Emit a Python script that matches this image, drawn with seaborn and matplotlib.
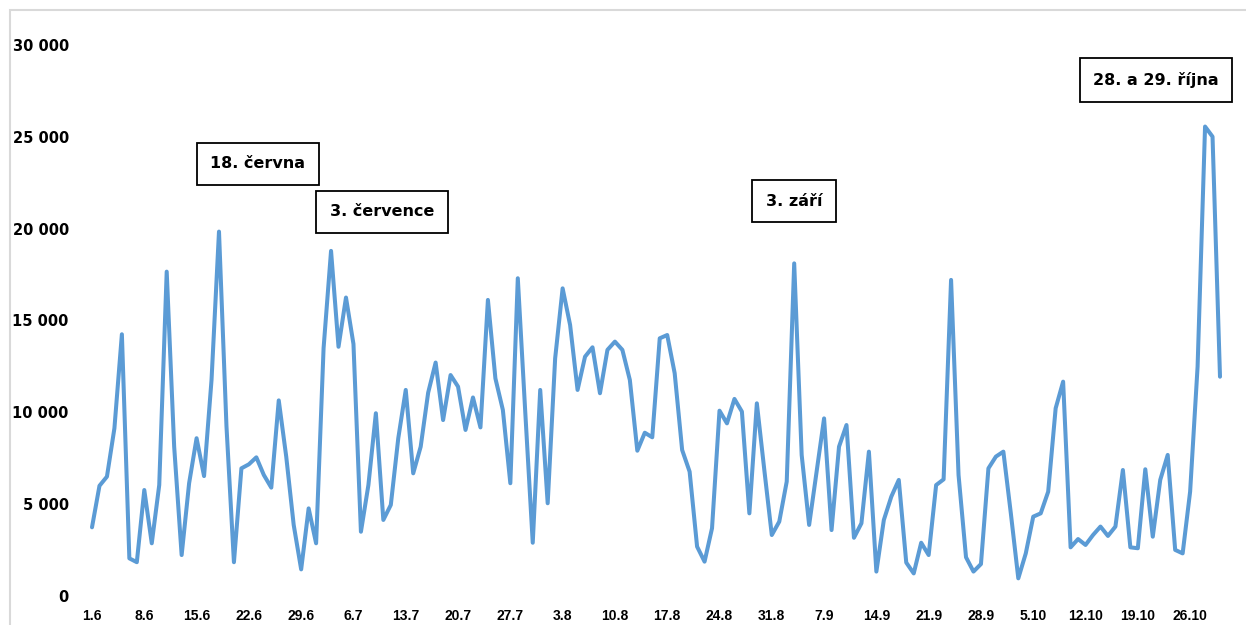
import matplotlib
matplotlib.use("Agg")
import matplotlib.pyplot as plt
import seaborn as sns
import pandas as pd
from matplotlib.patches import Rectangle

# denni hodnoty od 1.6. do 30.10.
values = [
    3740, 6000, 6500, 9130, 14250, 2050, 1840, 5770, 2870, 6040,
    17660, 8130, 2230, 6140, 8590, 6530, 11760, 19840, 9250, 1840,
    6950, 7170, 7550, 6590, 5900, 10650, 7590, 3870, 1450, 4770,
    2870, 13490, 18790, 13570, 16250, 13720, 3500, 6040, 9950, 4140,
    4960, 8590, 11220, 6680, 8130, 11070, 12710, 9580, 12030, 11400,
    9040, 10810, 9180, 16120, 11850, 10130, 6140, 17300, 10000, 2900,
    11220, 5050, 12940, 16750, 14760, 11220, 13030, 13540, 11040, 13400,
    13850, 13400, 11760, 7910, 8890, 8640, 14030, 14210, 12130, 7950,
    6770, 2690, 1870, 3690, 10090, 9400, 10730, 10040, 4500, 10490,
    6860, 3320, 4050, 6230, 18110, 7680, 3870, 6770, 9670, 3590,
    8130, 9310, 3170, 3960, 7860, 1330, 4140, 5410, 6320, 1820,
    1230, 2900, 2230, 6040, 6350, 17210, 6590, 2110, 1330, 1740,
    6950, 7590, 7860, 4500, 960, 2320, 4320, 4500, 5680, 10220,
    11670, 2650, 3100, 2780, 3320, 3780, 3270, 3780, 6860, 2650,
    2600, 6900, 3230, 6320, 7680, 2510, 2320, 5680, 12490, 25560,
    25010, 11940,
]

tick_labels = [
    "1.6", "8.6", "15.6", "22.6", "29.6", "6.7", "13.7", "20.7", "27.7",
    "3.8", "10.8", "17.8", "24.8", "31.8", "7.9", "14.9", "21.9", "28.9",
    "5.10", "12.10", "19.10", "26.10",
]
y_ticks = [0, 5000, 10000, 15000, 20000, 25000, 30000]

notes = ["18. června", "3. července", "3. září", "28. a 29. října"]
note_pos = [(258, 164), (382, 212), (794, 201), (1156, 80)]  # px

W, H = 1246, 625

df = pd.DataFrame({"den": range(len(values)), "pocet": values})

sns.set_style("white")
fig = plt.figure(figsize=(W / 100, H / 100), dpi=100)
ax = fig.add_axes([82 / W, 29 / H, (1230 - 82) / W, (596 - 45) / H])

sns.lineplot(data=df, x="den", y="pocet", ax=ax, color="#5B9BD5",
             linewidth=2.9, solid_joinstyle="round", solid_capstyle="round")

step = 7.47
ax.set_xlim(-10 / step, len(values) - 1 + 10 / step)
ax.set_ylim(0, 30000)
ax.set_xticks(range(0, len(tick_labels) * 7, 7))
ax.set_xticklabels(tick_labels, fontfamily="Liberation Sans",
                   fontweight="bold", fontsize=10, color="black")
ax.set_yticks(y_ticks)
ax.set_yticklabels([f"{v:,}".replace(",", " ") for v in y_ticks],
                   fontfamily="DejaVu Sans", fontweight="bold", fontsize=10.5,
                   color="black")
ax.tick_params(axis="x", length=0, pad=9.5)
ax.tick_params(axis="y", length=0, pad=9.5)
ax.set_xlabel("")
ax.set_ylabel("")
for s in ax.spines.values():
    s.set_visible(False)

for txt, (px, py) in zip(notes, note_pos):
    fig.text(px / W, 1 - py / H, txt, ha="center", va="center",
             fontsize=11.5, fontweight="bold", color="black",
             bbox=dict(boxstyle="square,pad=0.85", fc="white", ec="black", lw=1.3))

# svetly ramecek grafu
fig.patches.append(Rectangle((10 / W, -0.1), 1.2, 1.1 - 10 / H,
                             transform=fig.transFigure, fill=False,
                             ec="#D9D9D9", lw=1.5))

fig.savefig("out.png", dpi=100)
